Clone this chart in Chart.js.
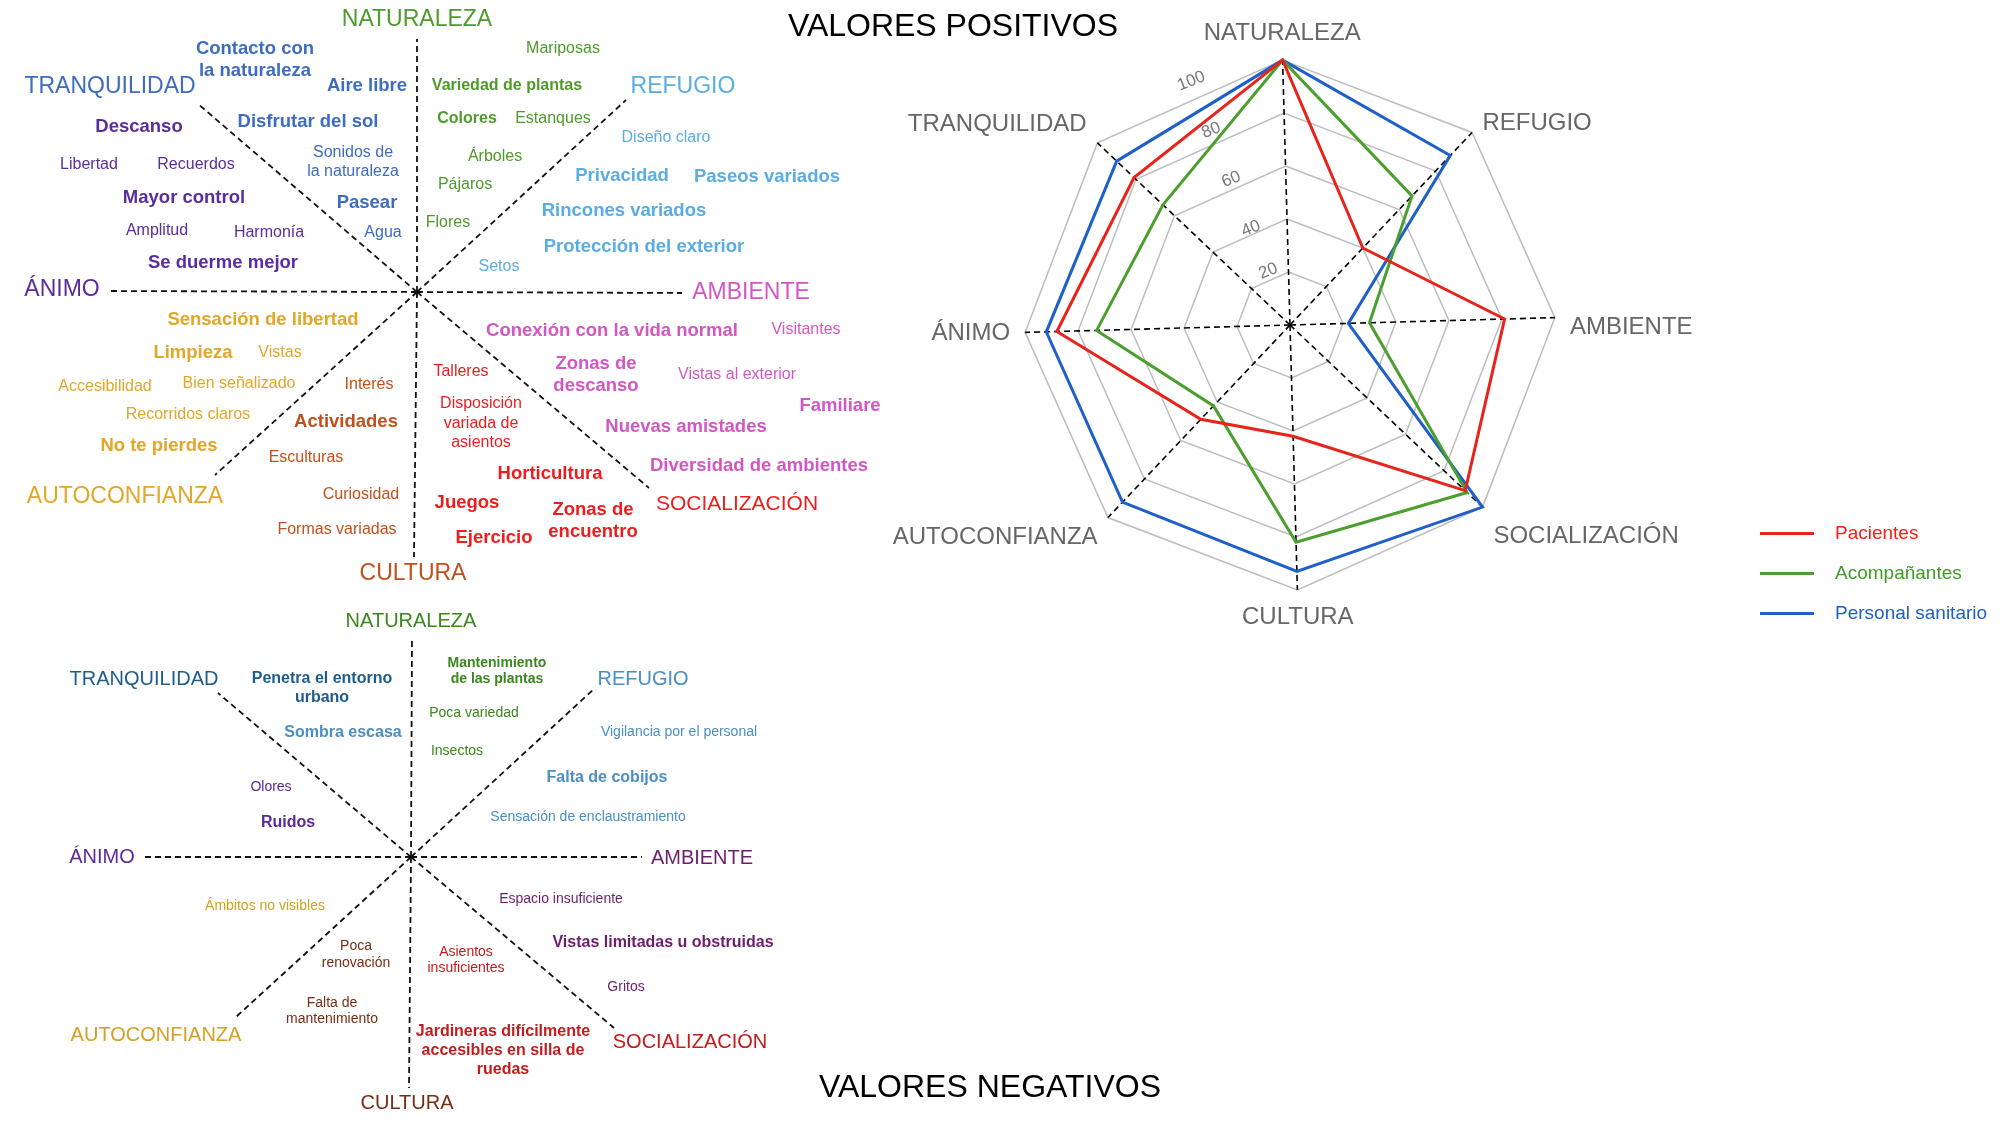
<!DOCTYPE html>
<html>
<head>
<meta charset="utf-8">
<script src="https://cdn.jsdelivr.net/npm/chart.js@4.4.0/dist/chart.umd.min.js"></script>
<style>
  html, body { margin: 0; padding: 0; background: #fff; overflow: hidden; }
  #page { position: relative; width: 2000px; height: 1121px; }
  #page canvas { position: absolute; left: 0; top: 0; }
</style>
</head>
<body>
<div id="page">
  <canvas id="wordMaps" width="2000" height="1121"></canvas>
  <canvas id="radar" width="2000" height="1121"></canvas>
</div>
<script>
// ---- data ----
const axisLabels = ['NATURALEZA', 'REFUGIO', 'AMBIENTE', 'SOCIALIZACIÓN', 'CULTURA', 'AUTOCONFIANZA', 'ÁNIMO', 'TRANQUILIDAD'];
const seriesNames = ['Pacientes', 'Acompañantes', 'Personal sanitario'];
const pacientes = [100, 40, 81, 91, 42, 49, 88, 81];
const acompanantes = [100, 67, 30, 92, 82, 42, 73, 66];
const personalSanitario = [100, 88, 22, 100, 93, 92, 92, 90];
const tickValues = [20, 40, 60, 80, 100];
const titles = ['VALORES POSITIVOS', 'VALORES NEGATIVOS'];

// words of each map and the axis (index in axisLabels) they belong to
const posWords = [
    'Contacto con\nla naturaleza', 'Aire libre', 'Disfrutar del sol', 'Sonidos de\nla naturaleza', 'Pasear', 'Agua',
    'Descanso', 'Libertad', 'Recuerdos', 'Mayor control', 'Amplitud', 'Harmonía', 'Se duerme mejor',
    'Mariposas', 'Variedad de plantas', 'Colores', 'Estanques', 'Árboles', 'Pájaros', 'Flores',
    'Diseño claro', 'Privacidad', 'Paseos variados', 'Rincones variados', 'Protección del exterior', 'Setos',
    'Sensación de libertad', 'Limpieza', 'Vistas', 'Accesibilidad', 'Bien señalizado', 'Recorridos claros', 'No te pierdes',
    'Interés', 'Actividades', 'Esculturas', 'Curiosidad', 'Formas variadas',
    'Talleres', 'Disposición\nvariada de\nasientos', 'Horticultura', 'Juegos', 'Zonas de\nencuentro', 'Ejercicio',
    'Conexión con la vida normal', 'Visitantes', 'Zonas de\ndescanso', 'Vistas al exterior', 'Familiare', 'Nuevas amistades', 'Diversidad de ambientes'
];
const posWordAxis = [
    7, 7, 7, 7, 7, 7,
    6, 6, 6, 6, 6, 6, 6,
    0, 0, 0, 0, 0, 0, 0,
    1, 1, 1, 1, 1, 1,
    5, 5, 5, 5, 5, 5, 5,
    4, 4, 4, 4, 4,
    3, 3, 3, 3, 3, 3,
    2, 2, 2, 2, 2, 2, 2
];
const negWords = [
    'Penetra el entorno\nurbano', 'Sombra escasa', 'Mantenimiento\nde las plantas', 'Poca variedad', 'Insectos',
    'Vigilancia por el personal', 'Falta de cobijos', 'Sensación de enclaustramiento', 'Olores', 'Ruidos',
    'Ámbitos no visibles', 'Espacio insuficiente', 'Vistas limitadas u obstruidas', 'Poca\nrenovación',
    'Asientos\ninsuficientes', 'Gritos', 'Falta de\nmantenimiento', 'Jardineras difícilmente\naccesibles en silla de\nruedas'
];
const negWordAxis = [7, 1, 0, 0, 0, 1, 1, 1, 6, 6, 5, 2, 2, 4, 3, 2, 4, 3];

// ---- layout / styles ----
const FONT = '"Liberation Sans", Arial, Helvetica, sans-serif';
const posColors = ['#4e9a2a', '#5aade2', '#d257c4', '#ee1d1d', '#c2501c', '#e2a628', '#5b2d9c', '#3d6cc0'];
const negColors = ['#3a881e', '#4a8ec2', '#6c1d6c', '#c41b1b', '#7a2c12', '#d6a024', '#5a2a9a', '#1f5c8c'];
const seriesColors = ['#e8231b', '#4c9e2e', '#1f5fc8'];
const legendTextColors = ['#ff1a1a', '#3f9a26', '#1f5fc8'];

// word maps: spoke centre, spoke ends and label centres (page pixels), in axisLabels order
const posCenter = [417, 292];
const posEnds = [[417, 39], [626, 100], [682, 293], [649, 488], [414, 557], [215, 475], [110, 291], [197, 103]];
const posLabelPos = [[417, 20], [683, 87], [751, 293], [737, 504], [413, 574], [125, 497], [62, 290], [110, 87]];
const posLabelSize = [23, 23, 23, 21, 23, 23, 23, 23];
const negCenter = [411, 857];
const negEnds = [[412, 638], [594, 689], [642, 857], [614, 1028], [409, 1088], [236, 1017], [145, 857], [218, 693]];
const negLabelPos = [[411, 621], [643, 679], [702, 858], [690, 1042], [407, 1103], [156, 1035], [102, 857], [144, 679]];
// [x, y, font size, bold, line height]
const posWordLayout = [
    [255, 49, 18.5, 1, 22], [367, 86, 18.5, 1], [308, 122, 18.5, 1], [353, 153, 16, 0, 19], [367, 203, 18.5, 1], [383, 233, 16, 0],
    [139, 127, 18.5, 1], [89, 165, 16, 0], [196, 165, 16, 0], [184, 198, 18.5, 1], [157, 231, 16, 0], [269, 233, 16, 0], [223, 263, 18.5, 1],
    [563, 49, 16, 0], [507, 86, 16, 1], [467, 119, 16, 1], [553, 119, 16, 0], [495, 157, 16, 0], [465, 185, 16, 0], [448, 223, 16, 0],
    [666, 138, 16, 0], [622, 176, 18.5, 1], [767, 177, 18.5, 1], [624, 211, 18.5, 1], [644, 247, 18.5, 1], [499, 267, 16, 0],
    [263, 320, 18.5, 1], [193, 353, 18.5, 1], [280, 353, 16, 0], [105, 387, 16, 0], [239, 384, 16, 0], [188, 415, 16, 0], [159, 446, 18.5, 1],
    [369, 385, 16, 0], [346, 422, 18.5, 1], [306, 458, 16, 0], [361, 495, 16, 0], [337, 530, 16, 0],
    [461, 372, 16, 0], [481, 404, 16, 0, 19.5], [550, 474, 18.5, 1], [467, 503, 18.5, 1], [593, 510, 18.5, 1, 22], [494, 538, 18.5, 1],
    [612, 331, 18.5, 1], [806, 330, 16, 0], [596, 364, 18.5, 1, 22], [737, 375, 16, 0], [840, 406, 18.5, 1], [686, 427, 18.5, 1], [759, 466, 18.5, 1]
];
const negWordLayout = [
    [322, 679, 16, 1, 19], [343, 733, 16, 1], [497, 663, 14, 1, 16], [474, 713, 14, 0], [457, 751, 14, 0],
    [679, 732, 14, 0], [607, 778, 16, 1], [588, 817, 14, 0], [271, 787, 14, 0], [288, 823, 16, 1],
    [265, 906, 14, 0], [561, 899, 14, 0], [663, 943, 16, 1], [356, 946, 14, 0, 17],
    [466, 952, 14, 0, 16], [626, 987, 14, 0], [332, 1003, 14, 0, 16], [503, 1032, 16, 1, 19]
];
const titlePos = [[953, 27], [990, 1088]];

// radar geometry
const radarCenter = [1290.7, 325.3];
const radarRadius = 265.3;

Chart.defaults.font.family = FONT;

function drawText(ctx, text, x, y, size, bold, color, lineH) {
    ctx.save();
    ctx.font = (bold ? 'bold ' : '') + size + 'px ' + FONT;
    ctx.fillStyle = color;
    ctx.textAlign = 'center';
    ctx.textBaseline = 'middle';
    text.split('\n').forEach((line, i) => ctx.fillText(line, x, y + i * (lineH || 0)));
    ctx.restore();
}

function spokes(center, ends) {
    return ends.map(e => ({
        data: [{ x: center[0], y: center[1] }, { x: e[0], y: e[1] }],
        showLine: true,
        borderColor: '#111',
        borderWidth: 1.8,
        borderDash: [6, 4],
        pointRadius: 0
    }));
}

// text of both word maps and the two titles
const wordPlugin = {
    id: 'wordPlugin',
    afterDatasetsDraw(chart) {
        const ctx = chart.ctx;
        const sx = chart.scales.x, sy = chart.scales.y;
        const px = v => sx.getPixelForValue(v);
        const py = v => sy.getPixelForValue(v);

        axisLabels.forEach((label, i) => {
            drawText(ctx, label, px(posLabelPos[i][0]), py(posLabelPos[i][1]), posLabelSize[i], false, posColors[i]);
            drawText(ctx, label, px(negLabelPos[i][0]), py(negLabelPos[i][1]), 20, false, negColors[i]);
        });
        posWords.forEach((w, i) => {
            const l = posWordLayout[i];
            drawText(ctx, w, px(l[0]), py(l[1]), l[2], l[3], posColors[posWordAxis[i]], l[4]);
        });
        negWords.forEach((w, i) => {
            const l = negWordLayout[i];
            drawText(ctx, w, px(l[0]), py(l[1]), l[2], l[3], negColors[negWordAxis[i]], l[4]);
        });
        titles.forEach((t, i) => drawText(ctx, t, px(titlePos[i][0]), py(titlePos[i][1]), 32, false, '#000'));
    }
};

new Chart(document.getElementById('wordMaps'), {
    type: 'scatter',
    data: { datasets: spokes(posCenter, posEnds).concat(spokes(negCenter, negEnds)) },
    options: {
        responsive: false,
        animation: false,
        events: [],
        scales: {
            x: { type: 'linear', min: 0, max: 2000, display: false },
            y: { type: 'linear', min: 0, max: 1121, reverse: true, display: false }
        },
        plugins: { legend: { display: false }, tooltip: { enabled: false } }
    },
    plugins: [wordPlugin]
});

// point labels, rotated tick labels and the legend of the radar
const radarPlugin = {
    id: 'radarPlugin',
    afterDraw(chart) {
        const ctx = chart.ctx;
        const r = chart.scales.r;
        const R = r.getDistanceFromCenterForValue(r.max);

        ctx.save();
        ctx.font = '24px ' + FONT;
        ctx.fillStyle = '#666';
        ctx.textBaseline = 'middle';
        axisLabels.forEach((label, i) => {
            const a = r.getIndexAngle(i);
            const p = r.getPointPosition(i, R + 15);
            const s = Math.sin(a), c = Math.cos(a);
            ctx.textAlign = Math.abs(s) < 0.1 ? 'center' : (s > 0 ? 'left' : 'right');
            // labels on the right sit a little lower in the original
            const shift = s > 0.1 ? 11 : 0;
            ctx.fillText(label, p.x, p.y - c * 12 + shift);
        });
        ctx.restore();

        // tick labels along a tilted axis between TRANQUILIDAD and NATURALEZA
        const tickAngle = -22 * Math.PI / 180;
        ctx.save();
        ctx.font = '17px ' + FONT;
        ctx.fillStyle = '#777';
        ctx.textAlign = 'center';
        ctx.textBaseline = 'middle';
        tickValues.forEach(v => {
            const d = r.getDistanceFromCenterForValue(v) + (v === 20 ? 5 : -2);
            ctx.save();
            ctx.translate(r.xCenter + d * Math.sin(tickAngle), r.yCenter - d * Math.cos(tickAngle));
            ctx.rotate(tickAngle);
            ctx.fillText(String(v), 0, 0);
            ctx.restore();
        });
        ctx.restore();

        // legend
        ctx.save();
        ctx.font = '19px ' + FONT;
        ctx.textBaseline = 'middle';
        ctx.textAlign = 'left';
        chart.data.datasets.forEach((ds, i) => {
            const y = 533.5 + i * 40;
            ctx.strokeStyle = ds.borderColor;
            ctx.lineWidth = 3;
            ctx.beginPath();
            ctx.moveTo(1760, y);
            ctx.lineTo(1814, y);
            ctx.stroke();
            ctx.fillStyle = legendTextColors[i];
            ctx.fillText(ds.label, 1835, y);
        });
        ctx.restore();
    }
};

new Chart(document.getElementById('radar'), {
    type: 'radar',
    data: {
        labels: axisLabels,
        datasets: [pacientes, acompanantes, personalSanitario].map((vals, i) => ({
            label: seriesNames[i],
            data: vals,
            borderColor: seriesColors[i],
            borderWidth: 3,
            pointRadius: 0,
            fill: false,
            borderJoinStyle: 'miter'
        }))
    },
    options: {
        responsive: false,
        animation: false,
        events: [],
        layout: {
            padding: {
                left: radarCenter[0] - radarRadius,
                top: radarCenter[1] - radarRadius,
                right: 2000 - radarCenter[0] - radarRadius,
                bottom: 1121 - radarCenter[1] - radarRadius
            }
        },
        elements: { line: { tension: 0 } },
        scales: {
            r: {
                min: 0,
                max: 100,
                startAngle: -1.6,
                ticks: { stepSize: 20, display: false },
                grid: { color: '#bdbdbd', lineWidth: 1.5 },
                angleLines: { color: '#000', lineWidth: 1.6, borderDash: [6, 4] },
                pointLabels: { display: false }
            }
        },
        plugins: { legend: { display: false }, tooltip: { enabled: false } }
    },
    plugins: [radarPlugin]
});
</script>
</body>
</html>
